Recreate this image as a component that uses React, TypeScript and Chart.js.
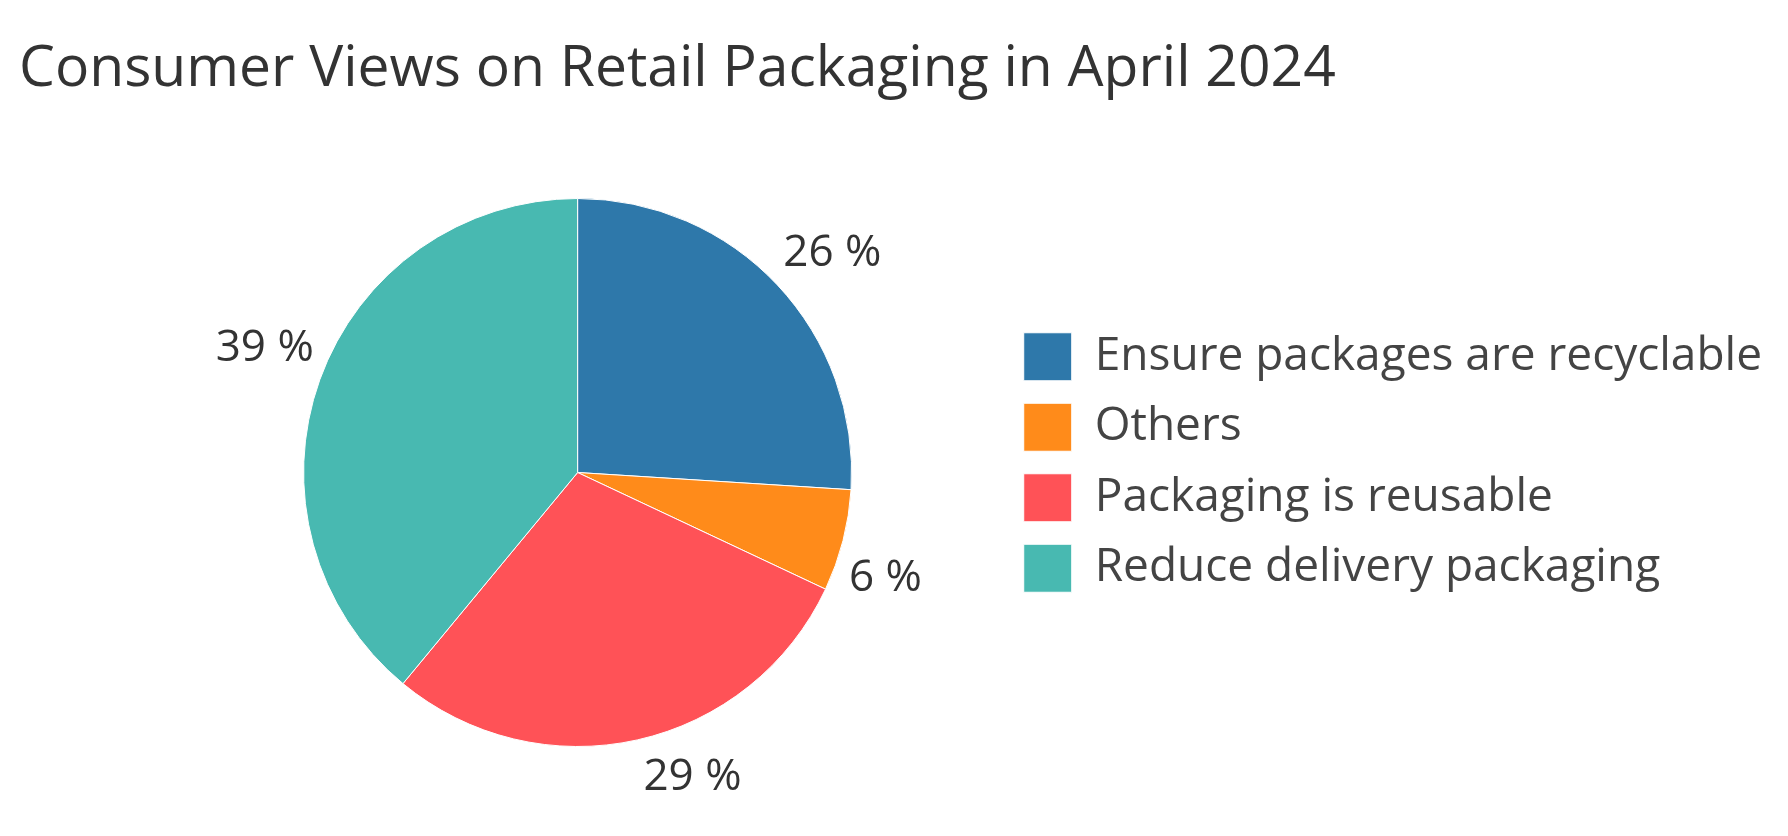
import React, { useEffect, useRef } from 'react';
import { Chart, registerables } from 'chart.js';

Chart.register(...registerables);

const TITLE = 'Consumer Views on Retail Packaging in April 2024';
const categories = [
  'Ensure packages are recyclable',
  'Others',
  'Packaging is reusable',
  'Reduce delivery packaging',
];
const shares = [26, 6, 29, 39];
const sliceColors = ['#2E78AA', '#FF8B1A', '#FF5257', '#48B9B1'];

const FONT = '"Open Sans", "Noto Sans", sans-serif';

const titlePlugin = {
  id: 'customTitle',
  afterDraw(chart: any) {
    const ctx = chart.ctx;
    ctx.save();
    ctx.font = `57px ${FONT}`;
    ctx.fillStyle = '#333333';
    ctx.textAlign = 'left';
    ctx.textBaseline = 'alphabetic';
    ctx.fillText(TITLE, 19, 86);
    ctx.restore();
  },
};

const labelPlugin = {
  id: 'sliceLabels',
  afterDatasetsDraw(chart: any) {
    const ctx = chart.ctx;
    const meta = chart.getDatasetMeta(0);
    const data = chart.data.datasets[0].data as number[];
    const size = 44;
    const capH = size * 0.714;
    ctx.save();
    ctx.font = `${size}px ${FONT}`;
    ctx.fillStyle = '#333333';
    ctx.textAlign = 'center';
    ctx.textBaseline = 'alphabetic';
    meta.data.forEach((arc: any, i: number) => {
      const { x, y, startAngle, endAngle, outerRadius } = arc.getProps(
        ['x', 'y', 'startAngle', 'endAngle', 'outerRadius'],
        true
      );
      const mid = (startAngle + endAngle) / 2;
      const c = Math.cos(mid);
      const s = Math.sin(mid);
      const sx = Math.abs(c) < 0.15 ? 0 : Math.sign(c);
      const sy = Math.abs(s) < 0.15 ? 0 : Math.sign(s);
      const ax = x + outerRadius * c + 6 * sx;
      const ay = y + outerRadius * s + 19 * sy;
      const text = `${data[i]} %`;
      const w = ctx.measureText(text).width;
      const cx = ax + (sx * w) / 2;
      const cy = ay + (sy * capH) / 2;
      ctx.fillText(text, cx, cy + capH / 2);
    });
    ctx.restore();
  },
};

export default function App() {
  const ref = useRef<HTMLCanvasElement>(null);

  useEffect(() => {
    document.body.style.margin = '0';
    const chart = new Chart(ref.current as HTMLCanvasElement, {
      type: 'pie',
      data: {
        labels: categories,
        datasets: [
          {
            data: shares,
            backgroundColor: sliceColors,
            borderColor: '#ffffff',
            borderWidth: 1,
            hoverOffset: 0,
          },
        ],
      },
      options: {
        responsive: false,
        animation: false,
        events: [],
        layout: { padding: { left: 154, right: 16, top: 178, bottom: 89 } },
        plugins: {
          title: { display: false },
          subtitle: {
            display: true,
            text: '',
            position: 'top',
            fullSize: false,
            padding: 0,
            font: { size: 10, lineHeight: 2 },
          },
          legend: {
            display: true,
            position: 'right',
            align: 'center',
            labels: {
              boxWidth: 48,
              boxHeight: 48,
              padding: 22.5,
              color: '#444444',
              font: { family: FONT, size: 46 },
            },
          },
          tooltip: { enabled: false },
        },
      },
      plugins: [labelPlugin, titlePlugin],
    });
    return () => chart.destroy();
  }, []);

  return (
    <div style={{ width: 1788, height: 836, background: '#ffffff' }}>
      <canvas ref={ref} width={1788} height={836} style={{ display: 'block' }} />
    </div>
  );
}
